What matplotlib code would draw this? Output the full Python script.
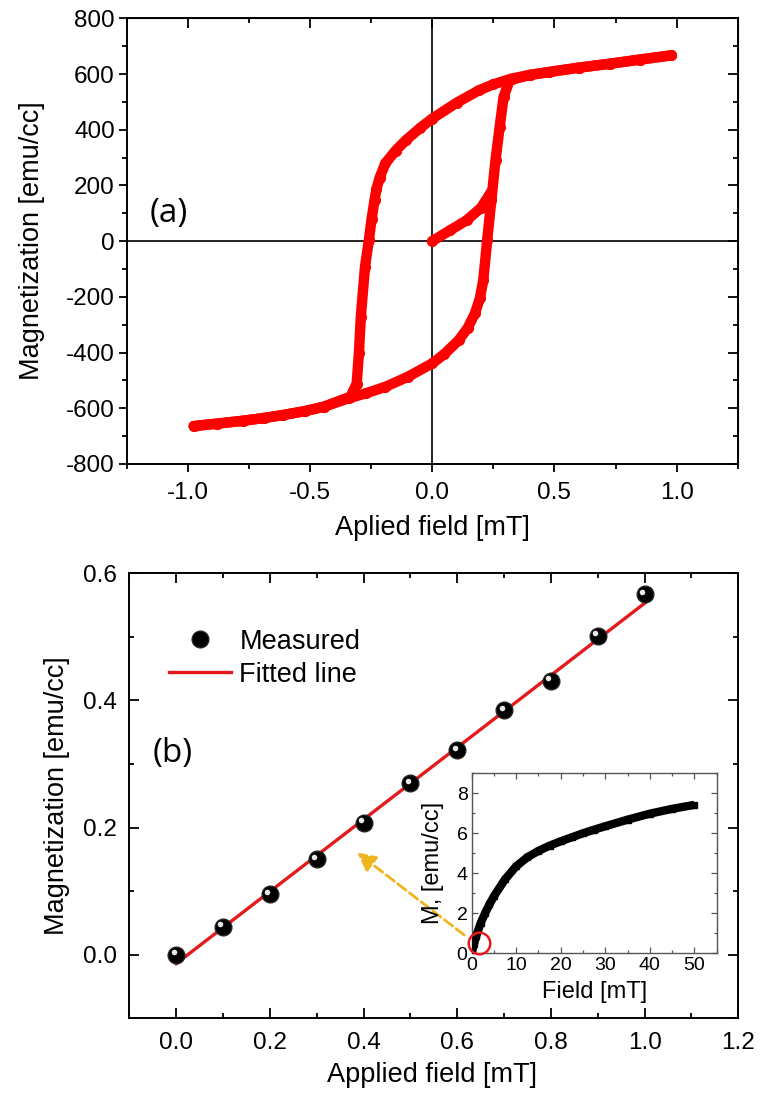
import matplotlib
matplotlib.use("Agg")
import matplotlib.pyplot as plt
from matplotlib.ticker import MultipleLocator, FormatStrFormatter
from matplotlib.transforms import offset_copy

plt.rcParams['font.family'] = ['Liberation Sans', 'DejaVu Sans']
plt.rcParams['axes.unicode_minus'] = False

# (a) hysteresis loop
desc_field = [0.977, 0.85, 0.726, 0.6, 0.476, 0.4, 0.326, 0.25, 0.192, 0.10, 0.0,
              -0.05, -0.108, -0.15, -0.192, -0.215, -0.228, -0.236, -0.248, -0.259,
              -0.275, -0.292, -0.300, -0.309, -0.334, -0.442, -0.52, -0.609,
              -0.69, -0.776, -0.88, -0.976]
desc_mag = [667, 652, 637, 623, 607, 597, 584, 563, 542, 497, 440,
            406, 362, 325, 279, 228, 187, 147, 80, 4,
            -92, -271, -403, -511, -558, -594, -610, -624,
            -635, -645, -655, -664]
asc_field = [-0.976, -0.88, -0.776, -0.69, -0.609, -0.52, -0.442, -0.342, -0.27,
             -0.192, -0.10, 0.0, 0.05, 0.109, 0.145, 0.175, 0.195, 0.209, 0.225,
             0.242, 0.259, 0.276, 0.292, 0.317, 0.4, 0.476, 0.6, 0.726, 0.85, 0.977]
asc_mag = [-664, -655, -645, -635, -624, -610, -594, -564, -546,
           -523, -487, -439, -405, -355, -312, -259, -205, -140, 4,
           147, 291, 410, 518, 578, 597, 607, 623, 637, 652, 667]
virgin_field = [0.0, 0.073, 0.141, 0.20, 0.24]
virgin_mag = [0, 39, 75, 120, 175]

# (b) low field linear part
meas_field = [0.0, 0.1, 0.2, 0.3, 0.4, 0.5, 0.6, 0.7, 0.8, 0.9, 1.0]
meas_mag = [0.0, 0.044, 0.095, 0.150, 0.208, 0.270, 0.322, 0.385, 0.431, 0.502, 0.567]
fit_field = [0.0, 1.0]
fit_mag = [-0.014, 0.553]

# inset
inset_field = [0, 0.5, 1, 2, 3, 4, 5, 7.5, 10, 12.5, 15, 17.5, 20, 22.5, 25,
               27.5, 30, 35, 40, 45, 50]
inset_mag = [0, 0.45, 0.85, 1.5, 2.0, 2.45, 2.85, 3.7, 4.35, 4.8, 5.12, 5.38, 5.6,
             5.8, 6.0, 6.18, 6.35, 6.68, 6.98, 7.22, 7.42]

fig = plt.figure(figsize=(7.61, 10.99), dpi=100)

# ---------------- panel (a)
ax1 = fig.add_axes([0.1665, 0.5778, 0.8029, 0.4055])
ax1.axhline(0, color='black', lw=1.2, zorder=1)
ax1.axvline(0, color='black', lw=1.2, zorder=1)
for xs, ys in [(desc_field, desc_mag), (asc_field, asc_mag), (virgin_field, virgin_mag)]:
    ax1.plot(xs, ys, color='#ff0000', lw=7.5, marker='o', ms=7,
             solid_capstyle='round', solid_joinstyle='round', zorder=3)
ax1.set_xlim(-1.25, 1.25)
ax1.set_ylim(-800, 800)
ax1.xaxis.set_major_locator(MultipleLocator(0.5))
ax1.xaxis.set_minor_locator(MultipleLocator(0.25))
ax1.xaxis.set_major_formatter(FormatStrFormatter('%.1f'))
ax1.yaxis.set_major_locator(MultipleLocator(200))
ax1.yaxis.set_minor_locator(MultipleLocator(100))
ax1.tick_params(which='both', direction='out', labelsize=17.5, width=1.3)
ax1.tick_params(axis='x', which='major', length=6, pad=7)
ax1.tick_params(axis='y', which='major', length=6, pad=2.5)
ax1.tick_params(which='minor', length=3.5)
for sp in ax1.spines.values():
    sp.set_linewidth(1.4)

secx = ax1.secondary_xaxis('top')
secx.xaxis.set_major_locator(MultipleLocator(0.5))
secx.xaxis.set_minor_locator(MultipleLocator(0.25))
secx.tick_params(which='both', direction='in', labeltop=False, width=1.3)
secx.tick_params(which='major', length=7)
secx.tick_params(which='minor', length=3.5)
secy = ax1.secondary_yaxis('right')
secy.yaxis.set_major_locator(MultipleLocator(200))
secy.yaxis.set_minor_locator(MultipleLocator(100))
secy.tick_params(which='both', direction='in', labelright=False, width=1.3)
secy.tick_params(which='major', length=7)
secy.tick_params(which='minor', length=3.5)

ax1.set_xlabel('Aplied field [mT]', fontsize=19.5)
ax1.xaxis.set_label_coords(0.5, -0.1435)
ax1.xaxis.label.set_va('center')
ax1.set_ylabel('Magnetization [emu/cc]', fontsize=19.5)
ax1.yaxis.set_label_coords(-0.155, 0.5)
ax1.yaxis.label.set_va('center')
ax1.text(-1.155, 100, '(a)', fontsize=24, family=['Open Sans', 'DejaVu Sans'],
         ha='left', va='center')

# ---------------- panel (b)
ax2 = fig.add_axes([0.1699, 0.0734, 0.8003, 0.4049])
line_fit, = ax2.plot(fit_field, fit_mag, color='#e41a1c', lw=2.4, zorder=2, label='Fitted line')
balls, = ax2.plot(meas_field, meas_mag, ls='none', marker='o', ms=12,
                  mfc='black', mec='#222222', zorder=3, label='Measured')
shine = offset_copy(ax2.transData, fig=fig, x=-1.8, y=1.8, units='points')
ax2.plot(meas_field, meas_mag, ls='none', marker='o', ms=4, mfc='#e8e8e8',
         mec='none', transform=shine, zorder=4)
ax2.set_xlim(-0.1, 1.2)
ax2.set_ylim(-0.1, 0.6)
ax2.xaxis.set_major_locator(MultipleLocator(0.2))
ax2.xaxis.set_minor_locator(MultipleLocator(0.1))
ax2.xaxis.set_major_formatter(FormatStrFormatter('%.1f'))
ax2.yaxis.set_major_locator(MultipleLocator(0.2))
ax2.yaxis.set_minor_locator(MultipleLocator(0.1))
ax2.yaxis.set_major_formatter(FormatStrFormatter('%.1f'))
ax2.tick_params(which='both', direction='in', top=True, right=True,
                labelsize=17.5, width=1.3)
ax2.tick_params(which='major', length=7)
ax2.tick_params(which='minor', length=3.5)
ax2.tick_params(axis='x', which='major', pad=10)
ax2.tick_params(axis='y', which='major', pad=9)
for sp in ax2.spines.values():
    sp.set_linewidth(1.4)
ax2.set_xlabel('Applied field [mT]', fontsize=19.5)
ax2.xaxis.set_label_coords(0.497, -0.127)
ax2.xaxis.label.set_va('center')
ax2.set_ylabel('Magnetization [emu/cc]', fontsize=19.5)
ax2.yaxis.set_label_coords(-0.119, 0.5)
ax2.yaxis.label.set_va('center')
ax2.text(-0.05, 0.317, '(b)', fontsize=24, family=['Open Sans', 'DejaVu Sans'],
         ha='left', va='center')
ax2.legend(handles=[balls, line_fit], loc='upper left', bbox_to_anchor=(0.065, 0.875),
           frameon=False, fontsize=19.5, handlelength=2.3, handletextpad=0.3,
           borderpad=0, borderaxespad=0, labelspacing=0.25)

# dashed arrow from the inset circle
ax2.annotate('', xy=(0.386, 0.161), xytext=(0.615, 0.031),
             arrowprops=dict(arrowstyle='-|>', ls='--', lw=2, color='#f0b41e',
                             mutation_scale=28, shrinkA=0, shrinkB=0), zorder=5)

# ---------------- inset
ax3 = fig.add_axes([0.6198, 0.1326, 0.3219, 0.1638])
ax3.plot(inset_field, inset_mag, color='black', lw=6, marker='s', ms=5,
         solid_capstyle='butt', solid_joinstyle='round', zorder=3)
ax3.plot([1.7], [0.5], ls='none', marker='o', ms=15.5, mfc='none', mec='#e41a1c',
         mew=1.8, clip_on=False, zorder=4)
ax3.set_xlim(0, 55)
ax3.set_ylim(0, 9)
ax3.xaxis.set_major_locator(MultipleLocator(10))
ax3.xaxis.set_minor_locator(MultipleLocator(5))
ax3.yaxis.set_major_locator(MultipleLocator(2))
ax3.yaxis.set_minor_locator(MultipleLocator(1))
ax3.tick_params(which='both', direction='in', top=True, right=True,
                labelsize=14, width=0.9, color='#555555', pad=3)
ax3.tick_params(which='major', length=4)
ax3.tick_params(which='minor', length=2)
for sp in ax3.spines.values():
    sp.set_linewidth(1.0)
    sp.set_color('#555555')
ax3.set_xlabel('Field [mT]', fontsize=17)
ax3.xaxis.set_label_coords(0.503, -0.213)
ax3.xaxis.label.set_va('center')
ax3.set_ylabel('M, [emu/cc]', fontsize=17)
ax3.yaxis.set_label_coords(-0.158, 0.5)
ax3.yaxis.label.set_va('center')

fig.savefig('out.png', dpi=100)
